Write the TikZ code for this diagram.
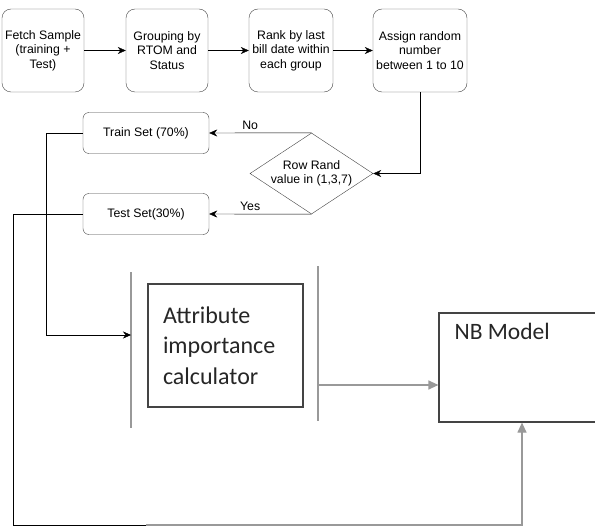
\documentclass[tikz,border=0pt]{standalone}
\usepackage{fontspec}
\setmainfont{Liberation Sans}
\newfontfamily\calibri{Carlito}
\usetikzlibrary{shapes.geometric,arrows.meta}
\definecolor{boxgray}{HTML}{444444}
\definecolor{linegray}{HTML}{999999}
\tikzset{rbox/.style={draw=boxgray,rounded corners=9pt,minimum width=82pt,minimum height=83pt,inner sep=0pt,align=center},
         setbox/.style={draw=boxgray,rounded corners=6pt,minimum width=126pt,minimum height=41pt,inner sep=0pt},
         decision/.style={draw=boxgray,diamond,aspect=1.5,minimum width=123pt,minimum height=81pt,inner sep=0pt,align=center},
         plainbox/.style={draw=boxgray,line width=1.2pt,inner sep=0pt},
         flow/.style={-{Stealth[length=8pt,width=7pt]},black},
         grayflow/.style={-{Triangle[length=10pt,width=9pt]},linegray,line width=1.2pt}}

\begin{document}
\begin{tikzpicture}[x=1pt,y=-1pt,font=\fontsize{12.3}{14.5}\selectfont]
\useasboundingbox (0,0) rectangle (595,527);
\node [rbox] (fetch) at (43,50.5) {Fetch Sample\\(training +\\Test)};
\node [rbox] (group) at (167,50.5) {Grouping by\\RTOM and\\Status};
\node [rbox,minimum width=84pt] (rank) at (291,50.5) {Rank by last\\bill date within\\each group};
\node [rbox,minimum width=94pt] (assign) at (420,50.5) {Assign random\\number\\between 1 to 10};
\node [decision] (rand) at (311.5,173.5) {Row Rand\\value in (1,3,7)};
\node [setbox] (train) at (146,133) {Train Set (70\%)};
\node [setbox] (test) at (146,214) {Test Set(30\%)};
\node [plainbox,minimum width=155pt,minimum height=123pt,text width=125pt,align=left,text=black!85,font=\calibri\fontsize{24}{30.5}\selectfont] (calc) at (225.5,345.5) {Attribute\\importance\\calculator};
\node [plainbox,minimum width=166pt,minimum height=109pt,label={[anchor=north west,inner sep=0pt,xshift=16pt,yshift=-11pt,text=black!85,font=\calibri\fontsize{23.5}{26}\selectfont]north west:NB Model}] (nb) at (522,367.5) {};
\coordinate (lbartop) at (131,272);
\coordinate (lbarbot) at (131,428);
\coordinate (rbartop) at (318,266);
\coordinate (rbarbot) at (318,421);
\coordinate (calcin) at (131,335);
\coordinate (calcout) at (318,385);
\coordinate (bend) at (146,525);
\draw [flow] (fetch) -- (group);
\draw [flow] (group) -- (rank);
\draw [flow] (rank) -- (assign);
\draw [flow] (assign.south) |- (rand.east);
\draw [flow] (rand.north) -- node [pos=0.6,above] {No} (train.east);
\draw [flow] (rand.south) -- node [pos=0.6,above] {Yes} (test.east);
\draw [linegray,line width=1.2pt] (lbartop) -- (lbarbot);
\draw [linegray,line width=1.2pt] (rbartop) -- (rbarbot);
\draw [flow] (train.west) -- ++(-37,0) |- (calcin);
\draw (test.west) -- ++(-70,0) |- (bend);
\draw [grayflow] (bend) -| (nb.south);
\draw [grayflow] (calcout) -- (calcout -| nb.west);
\end{tikzpicture}
\end{document}
